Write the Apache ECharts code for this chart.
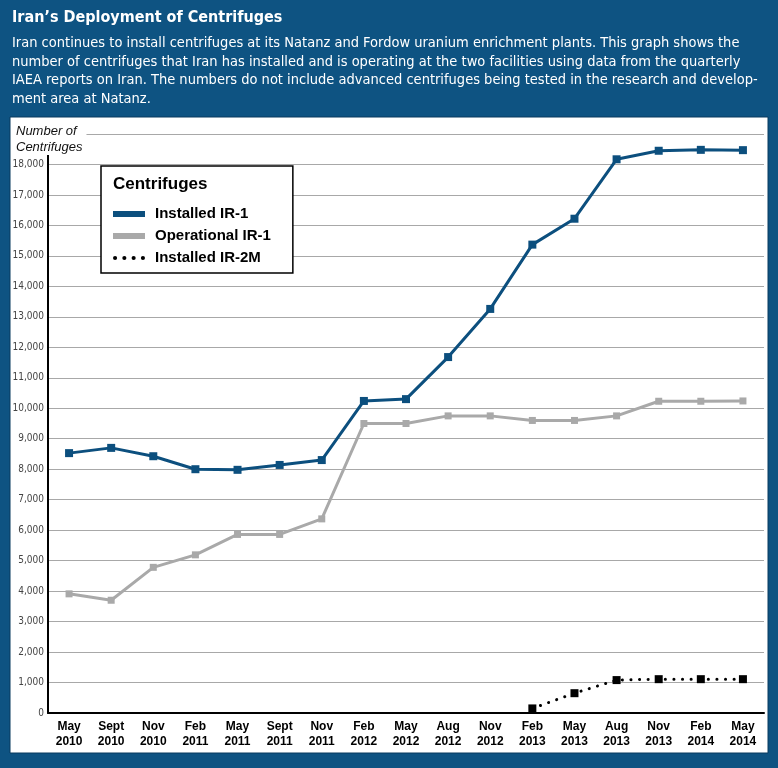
<!DOCTYPE html>
<html>
<head>
<meta charset="utf-8">
<script src="https://cdn.jsdelivr.net/npm/echarts@6/dist/echarts.min.js"></script>
<style>
html,body{margin:0;padding:0;background:#0e5382;}
#chart{width:778px;height:768px;}
</style>
</head>
<body>
<div id="chart"></div>
<script>
const categories = ['May\n2010','Sept\n2010','Nov\n2010','Feb\n2011','May\n2011','Sept\n2011','Nov\n2011','Feb\n2012','May\n2012','Aug\n2012','Nov\n2012','Feb\n2013','May\n2013','Aug\n2013','Nov\n2013','Feb\n2014','May\n2014'];
const installedIR1 = [8528, 8700, 8426, 8000, 7980, 8140, 8300, 10240, 10300, 11680, 13260, 15370, 16220, 18170, 18450, 18480, 18470];
const operationalIR1 = [3910, 3700, 4780, 5190, 5860, 5860, 6370, 9500, 9500, 9750, 9750, 9600, 9600, 9750, 10230, 10230, 10240];
const installedIR2M = [null, null, null, null, null, null, null, null, null, null, null, 150, 650, 1080, 1110, 1110, 1110];
const yTicks = { min: 0, max: 19000, interval: 1000 };

const condensed = "'Liberation Sans Narrow', 'DejaVu Sans Condensed', 'Arial Narrow', sans-serif";
const sans = "'Liberation Sans', Arial, Helvetica, sans-serif";
const BLUE = '#0c4f7e';
const GREY = '#a9a9a9';

const chart = echarts.init(document.getElementById('chart'), null, {renderer: 'canvas'});
chart.setOption({
  backgroundColor: '#0e5382',
  animation: false,
  title: {
    text: 'Iran’s Deployment of Centrifuges',
    subtext: 'Iran continues to install centrifuges at its Natanz and Fordow uranium enrichment plants. This graph shows the\nnumber of centrifuges that Iran has installed and is operating at the two facilities using data from the quarterly\nIAEA reports on Iran. The numbers do not include advanced centrifuges being tested in the research and develop-\nment area at Natanz.',
    left: 12, top: 8, padding: 0, itemGap: 6,
    textStyle: {color: '#ffffff', fontFamily: condensed, fontWeight: 'bold', fontSize: 16, lineHeight: 20},
    subtextStyle: {color: '#ffffff', fontFamily: condensed, fontSize: 14.5, lineHeight: 18.5}
  },
  graphic: [
    {type: 'rect', z: -10, shape: {x: 10, y: 117, width: 758, height: 636},
     style: {fill: '#ffffff', stroke: '#083a5e', lineWidth: 1}},
    {type: 'text', z: 100, left: 14, top: 122,
     style: {text: 'Number of\nCentrifuges', fill: '#111', fontFamily: sans, fontStyle: 'italic', fontSize: 13, lineHeight: 15.5,
             backgroundColor: '#ffffff', padding: [2, 4, 0, 2], align: 'left'}},
    {type: 'text', z: 200, left: 113, top: 176,
     style: {text: 'Centrifuges', fill: '#000', fontFamily: sans, fontWeight: 'bold', fontSize: 17}}
  ],
  legend: {
    orient: 'vertical', left: 101, top: 166,
    padding: [40, 22, 7, 12], itemGap: 6,
    itemWidth: 32, itemHeight: 6,
    backgroundColor: '#ffffff', borderColor: '#000', borderWidth: 1.5,
    textStyle: {color: '#000', fontFamily: sans, fontWeight: 'bold', fontSize: 15, lineHeight: 16, padding: [0, 0, 0, 5]},
    z: 50,
    data: [
      {name: 'Installed IR-1', icon: 'rect', itemStyle: {color: BLUE}},
      {name: 'Operational IR-1', icon: 'rect', itemStyle: {color: GREY}},
      {name: 'Installed IR-2M', icon: 'path://M2,2m-2,0a2,2 0 1,0 4,0a2,2 0 1,0 -4,0zM11,2m-2,0a2,2 0 1,0 4,0a2,2 0 1,0 -4,0zM20,2m-2,0a2,2 0 1,0 4,0a2,2 0 1,0 -4,0zM29,2m-2,0a2,2 0 1,0 4,0a2,2 0 1,0 -4,0z', itemStyle: {color: '#000'}}
    ]
  },
  grid: {left: 48, right: 14, top: 134, bottom: 55, containLabel: false},
  xAxis: {
    type: 'category', data: categories, boundaryGap: true,
    axisLine: {lineStyle: {color: '#000', width: 2}},
    axisTick: {show: false},
    axisLabel: {color: '#000', fontFamily: sans, fontWeight: 'bold', fontSize: 12, lineHeight: 15, margin: 6, interval: 0},
    splitLine: {show: false}
  },
  yAxis: {
    type: 'value', min: yTicks.min, max: yTicks.max, interval: yTicks.interval,
    axisLine: {show: true, lineStyle: {color: '#000', width: 2}},
    axisTick: {show: false},
    axisLabel: {color: '#444', fontFamily: condensed, fontSize: 10, margin: 4,
      formatter: v => v === yTicks.max ? '' : v.toLocaleString('en-US')},
    splitLine: {lineStyle: {color: '#a8a8a8', width: 1}}
  },
  series: [
    {name: 'Installed IR-1', type: 'line', data: installedIR1, z: 5,
     symbol: 'rect', symbolSize: 8, color: BLUE,
     lineStyle: {color: BLUE, width: 3}, itemStyle: {color: BLUE}},
    {name: 'Operational IR-1', type: 'line', data: operationalIR1, z: 4,
     symbol: 'rect', symbolSize: 7, color: GREY,
     lineStyle: {color: GREY, width: 3}, itemStyle: {color: GREY}},
    {name: 'Installed IR-2M', type: 'line', data: installedIR2M, z: 6,
     symbol: 'rect', symbolSize: 8, color: '#000',
     lineStyle: {color: '#000', width: 3, type: [0.1, 8.5], cap: 'round'}, itemStyle: {color: '#000'}}
  ]
});
</script>
</body>
</html>
